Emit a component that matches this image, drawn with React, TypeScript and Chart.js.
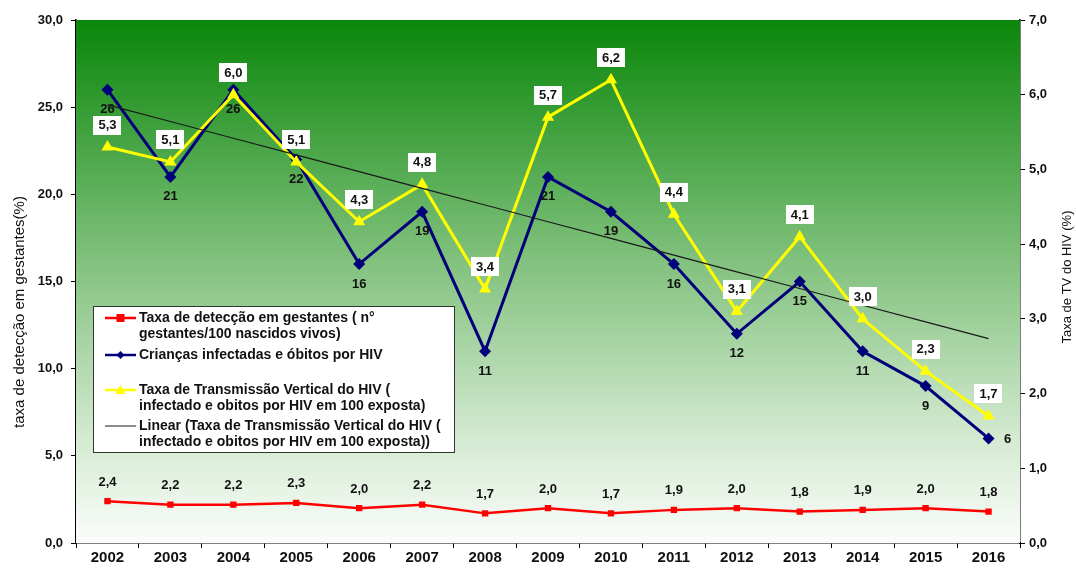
import React, { useEffect, useRef } from 'react';
import { Chart, registerables } from 'chart.js';

Chart.register(...registerables);

const FONT = "'Liberation Sans', Arial, Helvetica, sans-serif";

const years = ['2002', '2003', '2004', '2005', '2006', '2007', '2008', '2009', '2010', '2011', '2012', '2013', '2014', '2015', '2016'];
const detectionRate = [2.4, 2.2, 2.2, 2.3, 2.0, 2.2, 1.7, 2.0, 1.7, 1.9, 2.0, 1.8, 1.9, 2.0, 1.8];
const infectedChildren = [26, 21, 26, 22, 16, 19, 11, 21, 19, 16, 12, 15, 11, 9, 6];
const transmissionRate = [5.3, 5.1, 6.0, 5.1, 4.3, 4.8, 3.4, 5.7, 6.2, 4.4, 3.1, 4.1, 3.0, 2.3, 1.7];

const leftAxisTitle = 'taxa de detecção em gestantes(%)';
const rightAxisTitle = 'Taxa de TV do HIV (%)';

const legendLabels: string[][] = [
  ['Taxa de detecção em gestantes ( n°', 'gestantes/100 nascidos vivos)'],
  ['Crianças infectadas e óbitos por HIV'],
  ['Taxa de Transmissão Vertical do HIV (', 'infectado e obitos por HIV em 100 exposta)'],
  ['Linear (Taxa de Transmissão Vertical do HIV (', 'infectado e obitos por HIV em 100 exposta))'],
];

const RED = '#ff0000';
const BLUE = '#00007a';
const YELLOW = '#ffff00';
const TREND = '#1a1a1a';

// Least-squares linear trendline of the transmission rate (as Excel's "Linear" trendline)
function linearTrend(values: number[]): number[] {
  const n = values.length;
  const mx = (n - 1) / 2;
  const my = values.reduce((a, b) => a + b, 0) / n;
  let sxy = 0;
  let sxx = 0;
  values.forEach((v, i) => {
    sxy += (i - mx) * (v - my);
    sxx += (i - mx) * (i - mx);
  });
  const slope = sxy / sxx;
  return values.map((_, i) => my + slope * (i - mx));
}

const fmt1 = (v: number) => v.toFixed(1).replace('.', ',');

const backgroundPlugin = {
  id: 'gradientBg',
  beforeDatasetsDraw(chart: any) {
    const { ctx, chartArea } = chart;
    const { left, top, right, bottom } = chartArea;
    ctx.save();
    const g = ctx.createLinearGradient(0, top, 0, bottom);
    g.addColorStop(0, '#098609');
    g.addColorStop(0.45, '#7fc07b');
    g.addColorStop(0.8, '#d4ead1');
    g.addColorStop(1, '#fbfdfb');
    ctx.fillStyle = g;
    ctx.fillRect(left, top, right - left, bottom - top);
    ctx.restore();
  },
};

const valueLabelsPlugin = {
  id: 'valueLabels',
  afterDatasetsDraw(chart: any) {
    const ctx = chart.ctx;
    ctx.save();
    ctx.font = `bold 13px ${FONT}`;
    ctx.textAlign = 'center';
    ctx.textBaseline = 'middle';
    ctx.fillStyle = '#111111';
    const redMeta = chart.getDatasetMeta(0);
    redMeta.data.forEach((pt: any, i: number) => {
      ctx.fillText(fmt1(detectionRate[i]), pt.x, pt.y - 19);
    });
    const blueMeta = chart.getDatasetMeta(1);
    const n = infectedChildren.length;
    blueMeta.data.forEach((pt: any, i: number) => {
      const last = i === n - 1;
      ctx.fillText(String(infectedChildren[i]), last ? pt.x + 19 : pt.x, last ? pt.y + 1 : pt.y + 20);
    });
    const yMeta = chart.getDatasetMeta(2);
    yMeta.data.forEach((pt: any, i: number) => {
      const txt = fmt1(transmissionRate[i]);
      const w = ctx.measureText(txt).width + 10;
      const h = 19;
      const cy = pt.y - 22;
      ctx.fillStyle = '#ffffff';
      ctx.fillRect(Math.round(pt.x - w / 2), Math.round(cy - h / 2), Math.round(w), h);
      ctx.fillStyle = '#111111';
      ctx.fillText(txt, pt.x, cy + 0.5);
    });
    ctx.restore();
  },
};

const decorPlugin = {
  id: 'decor',
  afterDraw(chart: any) {
    const { ctx, chartArea } = chart;
    ctx.save();
    // axis titles
    ctx.fillStyle = '#111111';
    ctx.textAlign = 'center';
    ctx.textBaseline = 'middle';
    ctx.font = `15px ${FONT}`;
    ctx.save();
    ctx.translate(20, 312);
    ctx.rotate(-Math.PI / 2);
    ctx.fillText(leftAxisTitle, 0, 0);
    ctx.restore();
    ctx.font = `13px ${FONT}`;
    ctx.save();
    ctx.translate(1067, 277);
    ctx.rotate(-Math.PI / 2);
    ctx.fillText(rightAxisTitle, 0, 0);
    ctx.restore();

    // legend box
    const bx = chartArea.left + 17.5;
    const by = chartArea.top + 286.5;
    const bw = 361;
    const bh = 146;
    ctx.fillStyle = '#ffffff';
    ctx.fillRect(bx, by, bw, bh);
    ctx.strokeStyle = '#333333';
    ctx.lineWidth = 1;
    ctx.strokeRect(bx, by, bw, bh);

    const items = [
      { color: RED, marker: 'square', lw: 2.5, ys: [318, 334] },
      { color: BLUE, marker: 'diamond', lw: 2.5, ys: [355] },
      { color: YELLOW, marker: 'triangle', lw: 2.5, ys: [390, 406] },
      { color: TREND, marker: 'none', lw: 1, ys: [426, 442] },
    ];
    ctx.font = `bold 14px ${FONT}`;
    ctx.textAlign = 'left';
    items.forEach((it, k) => {
      const y = it.ys[0];
      const x0 = 105;
      const x1 = 136;
      const cx = (x0 + x1) / 2;
      ctx.strokeStyle = it.color;
      ctx.lineWidth = it.lw;
      ctx.beginPath();
      ctx.moveTo(x0, y);
      ctx.lineTo(x1, y);
      ctx.stroke();
      ctx.fillStyle = it.color;
      if (it.marker === 'square') {
        ctx.fillRect(cx - 4, y - 4, 8, 8);
      } else if (it.marker === 'diamond') {
        ctx.beginPath();
        ctx.moveTo(cx, y - 4);
        ctx.lineTo(cx + 4, y);
        ctx.lineTo(cx, y + 4);
        ctx.lineTo(cx - 4, y);
        ctx.closePath();
        ctx.fill();
      } else if (it.marker === 'triangle') {
        ctx.beginPath();
        ctx.moveTo(cx, y - 5);
        ctx.lineTo(cx + 5, y + 4);
        ctx.lineTo(cx - 5, y + 4);
        ctx.closePath();
        ctx.fill();
      }
      ctx.fillStyle = '#111111';
      legendLabels[k].forEach((line, j) => {
        ctx.fillText(line, 139, it.ys[j]);
      });
    });
    ctx.restore();
  },
};

export default function App() {
  const canvasRef = useRef<HTMLCanvasElement | null>(null);

  useEffect(() => {
    document.body.style.margin = '0';
    const canvas = canvasRef.current;
    if (!canvas) return;
    const trend = linearTrend(transmissionRate);
    const tickFont = { family: FONT, size: 13, weight: 'bold' as const };
    const xTickFont = { family: FONT, size: 15, weight: 'bold' as const };
    const chart = new Chart(canvas, {
      type: 'line',
      data: {
        labels: years,
        datasets: [
          {
            label: legendLabels[0].join(' '),
            data: detectionRate,
            yAxisID: 'y',
            borderColor: RED,
            backgroundColor: RED,
            borderWidth: 2.5,
            pointStyle: 'rect',
            pointRadius: 4.5,
            pointBorderWidth: 0,
            tension: 0,
            order: 3,
          },
          {
            label: legendLabels[1].join(' '),
            data: infectedChildren,
            yAxisID: 'y',
            borderColor: BLUE,
            backgroundColor: BLUE,
            borderWidth: 3,
            pointStyle: 'rectRot',
            pointRadius: 6,
            pointBorderWidth: 0,
            tension: 0,
            order: 2,
          },
          {
            label: legendLabels[2].join(' '),
            data: transmissionRate,
            yAxisID: 'y1',
            borderColor: YELLOW,
            backgroundColor: YELLOW,
            borderWidth: 3,
            pointStyle: 'triangle',
            pointRadius: 7,
            pointBorderWidth: 0,
            tension: 0,
            order: 1,
          },
          {
            label: legendLabels[3].join(' '),
            data: trend,
            yAxisID: 'y1',
            borderColor: TREND,
            borderWidth: 1.2,
            pointRadius: 0,
            tension: 0,
            order: 0,
          },
        ],
      },
      options: {
        responsive: false,
        animation: false,
        devicePixelRatio: 1,
        layout: { padding: { top: 20, left: 0, right: 0, bottom: 0 } },
        plugins: {
          legend: { display: false },
          tooltip: { enabled: false },
          title: { display: false },
        },
        scales: {
          x: {
            type: 'category',
            offset: true,
            grid: { offset: true, drawOnChartArea: false, drawTicks: true, tickLength: 5, color: '#000000', lineWidth: 1 },
            border: { display: true, color: '#000000', width: 1.5 },
            ticks: { color: '#111111', font: xTickFont, padding: 1, maxRotation: 0, autoSkip: false },
            afterFit: (scale: any) => {
              scale.height = 26;
            },
          },
          y: {
            type: 'linear',
            position: 'left',
            min: 0,
            max: 30,
            grid: { drawOnChartArea: false, drawTicks: true, tickLength: 5, color: '#000000', lineWidth: 1 },
            border: { display: true, color: '#000000', width: 1.5 },
            ticks: {
              stepSize: 5,
              color: '#111111',
              font: tickFont,
              padding: 8,
              callback: (v: any) => fmt1(Number(v)),
            },
            afterFit: (scale: any) => {
              scale.width = 76;
            },
          },
          y1: {
            type: 'linear',
            position: 'right',
            min: 0,
            max: 7,
            grid: { drawOnChartArea: false, drawTicks: true, tickLength: 5, color: '#000000', lineWidth: 1 },
            border: { display: true, color: '#000000', width: 1.5 },
            ticks: {
              stepSize: 1,
              color: '#111111',
              font: tickFont,
              padding: 4,
              callback: (v: any) => fmt1(Number(v)),
            },
            afterFit: (scale: any) => {
              scale.width = 56;
            },
          },
        },
      },
      plugins: [backgroundPlugin, valueLabelsPlugin, decorPlugin],
    });
    return () => {
      chart.destroy();
    };
  }, []);

  return (
    <div style={{ width: 1076, height: 569, position: 'relative', background: '#ffffff' }}>
      <canvas ref={canvasRef} width={1076} height={569} style={{ display: 'block' }} />
    </div>
  );
}
